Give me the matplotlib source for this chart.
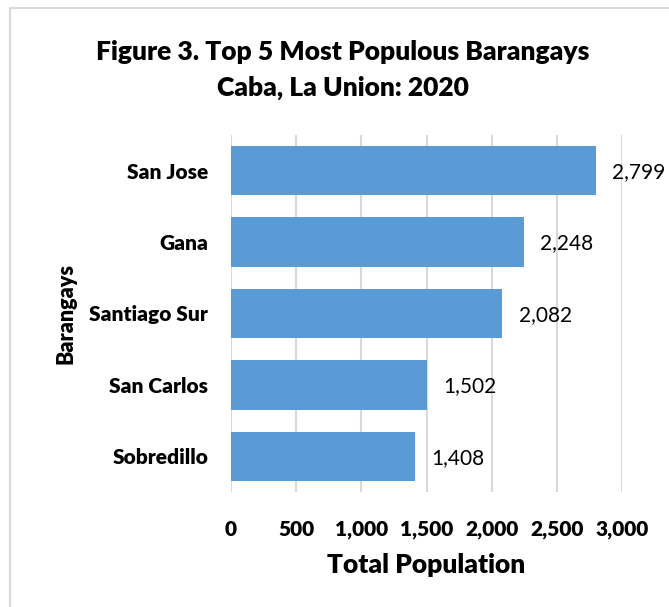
import matplotlib.pyplot as plt
from matplotlib.patches import Rectangle
from matplotlib.ticker import FuncFormatter

plt.rcParams["font.family"] = ["Lato", "DejaVu Sans"]

# Data
barangays = ["San Jose", "Gana", "Santiago Sur", "San Carlos", "Sobredillo"]
population = [2799, 2248, 2082, 1502, 1408]
x_ticks = [0, 500, 1000, 1500, 2000, 2500, 3000]

bar_color = "#5B9BD5"
grid_color = "#D9D9D9"

fig = plt.figure(figsize=(6.69, 6.07), dpi=100)
ax = fig.add_axes([231 / 669, 1 - 492 / 607, 391 / 669, 357 / 607])

# Chart border (only left/top visible in the crop)
fig.patches.append(Rectangle((10 / 669, -0.1), 1.2, 1 - 8 / 607 + 0.1,
                             transform=fig.transFigure, fill=False,
                             edgecolor=grid_color, linewidth=1.5))

ypos = list(range(len(barangays)))[::-1]
ax.barh(ypos, population, height=0.69, color=bar_color, zorder=3)

for y, v in zip(ypos, population):
    ax.text(v + 125, y - 0.02, f"{v:,}", va="center", ha="left", fontsize=15,
            color="black")

ax.set_xlim(0, 3000)
ax.set_ylim(-0.5, len(barangays) - 0.5)
ax.set_xticks(x_ticks)
ax.xaxis.set_major_formatter(FuncFormatter(lambda v, p: f"{int(v):,}"))
ax.set_yticks(ypos)
ax.set_yticklabels(barangays)
for lab in ax.get_xticklabels() + ax.get_yticklabels():
    lab.set_fontweight("heavy")
    lab.set_fontsize(15)

ax.tick_params(axis="both", length=0)
ax.tick_params(axis="x", pad=20)
ax.tick_params(axis="y", pad=16.5)
ax.grid(axis="x", color=grid_color, linewidth=1.5, zorder=0)
for s in ax.spines.values():
    s.set_visible(False)

ax.set_xlabel("Total Population", fontsize=19, fontweight="heavy", labelpad=10)
ax.set_ylabel("Barangays", fontsize=15.5, fontweight="heavy", labelpad=9)

fig.text(343 / 669, 1 - 52 / 607, "Figure 3. Top 5 Most Populous Barangays",
         ha="center", va="center", fontsize=19, fontweight="heavy")
fig.text(343 / 669, 1 - 88 / 607, "Caba, La Union: 2020",
         ha="center", va="center", fontsize=19, fontweight="heavy")

fig.savefig("out.png", dpi=100)
